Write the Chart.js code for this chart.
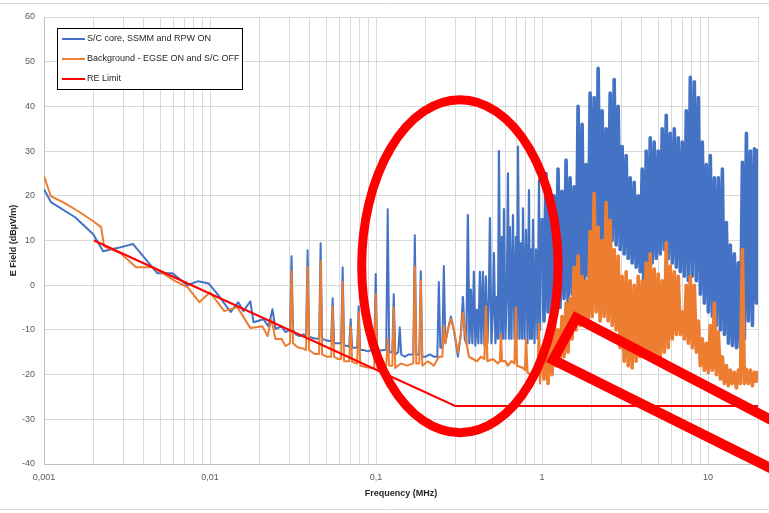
<!DOCTYPE html>
<html><head><meta charset="utf-8">
<script src="https://cdn.jsdelivr.net/npm/chart.js@4/dist/chart.umd.min.js"></script>
<style>html,body{margin:0;padding:0;background:#fff;overflow:hidden}canvas{display:block}</style>
</head><body>
<canvas id="c" width="769" height="513"></canvas>
<script>
// ---------- DATA ----------
const seriesNames = ['S/C core, SSMM and RPW ON', 'Background - EGSE ON and S/C OFF', 'RE Limit'];
const seriesColors = ['#4472C4', '#ED7D31', '#FF0000'];

const xTickValues = [0.001, 0.01, 0.1, 1, 10];
const xTickLabels = ['0,001', '0,01', '0,1', '1', '10'];
const minorMultipliers = [1, 2, 3, 4, 5, 6, 7, 8, 9];
const yTickMin = -40, yTickMax = 60, yTickStep = 10;

// Blue series, low-frequency part (MHz / dBµV/m)
const blueLowF = [0.001,0.0011,0.00154,0.00198,0.00227,0.00276,0.00344,0.00481,0.00592,0.0073,
  0.0085,0.0098,0.0111,0.0133,0.0148,0.0159,0.0175,0.0183,0.021,0.0225,
  0.0238,0.0248,0.02697,0.02851,0.03035,0.03099,0.03164,0.03276,0.03463,0.03661,
  0.0379,0.0387,0.03952,0.0415,0.04386,0.04542,0.04638,0.04735,0.04971,0.05256,
  0.05367,0.0548,0.05595,0.05872,0.06166,0.06295,0.06428,0.06748,0.0689,0.07035,
  0.07184,0.07541,0.077,0.07862,0.08028,0.08428,0.08911,0.09419,0.09752,0.09958,
  0.1017,0.1067,0.1113,0.1152,0.1176,0.1201,0.1253,0.1279,0.1306,0.1361,
  0.139,0.1419,0.149,0.1576,0.1677,0.1713,0.1749,0.1823,0.1861,0.19,
  0.1995,0.2109,0.2229,0.234,0.239,0.244,0.2509,0.2562,0.2616,0.2708,
  0.2825,0.2944,0.3113,0.3245,0.3336,0.3428,0.3502,0.3575,0.3651,0.3727,
  0.3806,0.3886,0.3968,0.4052,0.4137,0.4224,0.4313,0.4404,0.4498,0.4592,
  0.4689,0.4787,0.4855,0.4957,0.5061,0.5132,0.524,0.535,0.5425,0.5501,
  0.5617,0.5735,0.5815,0.5897,0.6021,0.6148,0.6234,0.6322,0.641,0.6545,
  0.6683,0.6823,0.6967,0.7065,0.7164,0.7315,0.7418,0.7574,0.768,0.7842,
  0.8007,0.8176,0.8347,0.8464,0.8583,0.8703,0.8825,0.9012,0.92,0.9393,
  0.9591,0.9725,0.9862];
const blueLowV = [21.5,18.6,15.2,11.4,7.6,8.3,9.2,2.7,2.7,0,
  0.9,0.4,-2,-6,-3.8,-5.8,-3.6,-8.3,-7.6,-9.2,
  -5.4,-9.8,-9.2,-10.5,-10,6.5,-10,-11,-11.4,-11,
  -11.5,7.8,-11.5,-11.8,-12,-12,9.4,-12,-12.3,-12.5,
  -12.5,-2.9,-13,-13,-13,4,-13.5,-13.6,-13.8,-7.6,
  -14,-14,-14,-4.7,-14.5,-14.5,-14.8,-14.5,-15,2.5,
  -15,-14.6,-14.5,-14.5,17,-15,-15,-2,-15.5,-15,
  -9.4,-15.5,-16,-15.5,-15.5,11.2,-15.5,-15.5,3.1,-16,
  -16,-15.5,-16,-16,0.7,-14,-14,4.3,-13,-10,
  -7,-10,-16,-11,-2.5,-12,-13,15.7,-13,-1,
  -13,3,-13.5,-5.5,-13,3,-13,3,-13.5,2,
  -13,-2.6,15,-13,-5.6,7.2,-13,-2.6,-12,30,
  -12,10.8,-12,17,-12,0.5,25,-12,13,-12,
  15.7,-12,10.8,-12,31,-12,9.4,-12,17.2,-12,
  12.4,-13,21.3,-12,8,-12,14.6,-13,8,-12,
  23.5,-10,10.8];

// Orange series, low-frequency part
const orangeLowF = [0.001,0.0011,0.0013,0.0016,0.00198,0.00221,0.0023,0.00288,0.00359,0.00455,
  0.00618,0.0073,0.00862,0.01,0.0122,0.01462,0.0175,0.0207,0.0222,0.02344,
  0.0248,0.02697,0.02851,0.03035,0.03099,0.03164,0.03369,0.03661,0.0379,0.0387,
  0.03952,0.04266,0.04542,0.04638,0.04735,0.0504,0.05367,0.0548,0.05595,0.05872,
  0.06166,0.06295,0.06428,0.0689,0.07035,0.07184,0.077,0.07862,0.08028,0.08667,
  0.0929,0.09752,0.09958,0.1017,0.1082,0.1152,0.1176,0.1201,0.1253,0.1279,
  0.1306,0.141,0.1532,0.1677,0.1713,0.1749,0.1823,0.1861,0.19,0.2051,
  0.2229,0.239,0.2509,0.2562,0.2616,0.2708,0.2825,0.2944,0.3113,0.3245,
  0.3336,0.3477,0.3626,0.3834,0.4052,0.4284,0.4498,0.4592,0.4689,0.5061,
  0.5425,0.5578,0.5656,0.5735,0.6021,0.6234,0.6545,0.6823,0.6967,0.7065,
  0.768,0.7897,0.8007,0.8176,0.8825,0.9393,0.9591,0.9725];
const orangeLowV = [24.4,19.9,18.6,16.6,14.3,13,8.7,7.2,4,4,
  0.9,-0.4,-3.8,-1.6,-5.8,-4.9,-9.6,-9.2,-11.4,-7.6,
  -12.1,-12,-13.6,-13,3.1,-13,-13.9,-14.2,-14.5,4,
  -14.5,-15.4,-15.4,5.4,-15.5,-16,-16,-4.9,-16,-16.5,
  -16.5,0.7,-17,-17,-9.2,-17.2,-17.5,-6,-18,-18.3,
  -18.5,-18.5,-2,-18.5,-18,-18,-12,-18,-18,-5,
  -18.5,-17.5,-18,-17.5,4.2,-17.5,-17.5,1,-18,-17,
  -18,-16,-16,-9,-13,-10,-7.5,-10,-15,-11,
  -6,-12,-16,-16.5,-17,-16,-16.5,-4.7,-17,-16.5,
  -17.5,-17,-11,-17,-17,-18,-17,-17.5,-5,-18,
  -18.5,-19,-12,-19.5,-20.5,-20,-8.7,-22];

// Dense sweep 1–20 MHz (shared frequency points)
const denseF = [1.000,1.028,1.057,1.087,1.118,1.149,1.181,1.215,1.249,1.284,
  1.320,1.358,1.396,1.435,1.476,1.517,1.560,1.604,1.649,1.696,
  1.744,1.793,1.843,1.895,1.949,2.004,2.060,2.118,2.178,2.239,
  2.302,2.367,2.434,2.502,2.573,2.645,2.720,2.796,2.875,2.956,
  3.039,3.125,3.213,3.303,3.396,3.492,3.591,3.692,3.796,3.903,
  4.013,4.126,4.242,4.362,4.485,4.611,4.741,4.875,5.013,5.154,
  5.299,5.449,5.602,5.760,5.923,6.090,6.261,6.438,6.619,6.806,
  6.998,7.195,7.398,7.606,7.821,8.041,8.268,8.501,8.741,8.987,
  9.241,9.499,9.767,10.04,10.32,10.62,10.92,11.22,11.54,11.87,
  12.20,12.54,12.90,13.26,13.63,14.02,14.41,14.82,15.24,15.67,
  16.11,16.56,17.03,17.51,18.00,18.51,19.03,19.56,20.0];
const blueDenseV = [15,-8,25,-6,18,-5,20,-4,26,-5,
  21,-3,28,-4,24,-2,22,-3,40,0,
  36,-2,27,2,43,4,42,5,48.5,8,
  39,6,35,8,43,10,46,9,40,8,
  31,7,29,6,24,5,23,4,20,3,
  26,-4,30,-5,33,5,32,6,30,7,
  35,8,38,6,34,5,35,4,33,3,
  32,2,39,1,46.5,2,45.5,1,42,-2,
  32,-4,27,-6,29,-7,24,-9,24,-10,
  26,-11,14,-13,9,-13.5,7,-14,5,-14,
  27.5,-12,34,-8,30,-9,30.5,-4,30.5];
const orangeDenseV = [-14,-21,-12,-22,-9,-20,-6,-18,-10,-17,
  -7,-16,-4,-15,-3,-12,4,-10,6.5,-9,
  2,-8,1,-9,12,-7,20.5,-6,13,-8,
  10,-7,18.5,-8,14.5,-9,8,-10,6.5,-14,
  2,-17,3,-18,1,-18.5,0,-17,2,-16,
  1,-15,5,-16,7,-17,3.6,-17,2.5,-16,
  1,-15,9.5,-14,4.3,-12,3,-11,2,-11,
  -6,-12,0,-13,2,-14,0,-15,-8,-18,
  -12,-19,-13,-19.5,-9,-19,-4,-20,-10.5,-21,
  -16,-22,-18,-22.5,-19,-22,-19.5,-23,-19,-22,
  8,-22,-18.8,-22,-19,-22.5,-19.5,-21.5,-19.2];

// RE limit
const limitF = [0.002, 0.3, 20];
const limitV = [10, -27, -27];

// Hand-drawn red highlight (data units): ellipse box and callout polyline
const ellipseF = [0.082, 1.25];
const ellipseV = [41.5, -33];
const calloutF = [36.6, 1.604, 1.165, 36.6];
const calloutV = [-33.7, -7.3, -16.7, -44.4];

// ---------- BUILD ----------
const pts = (fs, vs) => fs.map((f, i) => ({x: f, y: vs[i]}));
const blueData = pts(blueLowF, blueLowV).concat(pts(denseF, blueDenseV));
const orangeData = pts(orangeLowF, orangeLowV).concat(pts(denseF, orangeDenseV));
const limitData = pts(limitF, limitV);

const FONT = 'Liberation Sans';
// thicker strokes where the sweep is dense
const denseWidth = (ctx) => ctx.p0.parsed.x >= 0.99 ? 3.6 : (ctx.p0.parsed.x >= 0.33 ? 2.2 : 2);

const framePlugin = {
  id: 'frame',
  beforeDraw(chart) {
    const c = chart.ctx;
    c.save();
    c.fillStyle = '#fff';
    c.fillRect(0, 0, chart.width, chart.height);
    c.strokeStyle = '#d9d9d9';
    c.lineWidth = 1;
    c.beginPath();
    c.moveTo(0, 3.5); c.lineTo(chart.width, 3.5);
    c.moveTo(0, 509.5); c.lineTo(chart.width, 509.5);
    c.stroke();
    c.restore();
  }
};

const legendPlugin = {
  id: 'boxLegend',
  afterDatasetsDraw(chart) {
    const c = chart.ctx;
    const x0 = 57.5, y0 = 28.5, w = 185, h = 61;
    c.save();
    c.fillStyle = '#fff';
    c.fillRect(x0, y0, w, h);
    c.strokeStyle = '#000';
    c.lineWidth = 1;
    c.strokeRect(x0, y0, w, h);
    c.font = '9px "' + FONT + '"';
    c.textBaseline = 'middle';
    chart.data.datasets.forEach((ds, i) => {
      const y = 39 + i * 20;
      c.strokeStyle = ds.borderColor;
      c.lineWidth = 2;
      c.beginPath(); c.moveTo(62, y); c.lineTo(85, y); c.stroke();
      c.fillStyle = '#262626';
      c.fillText(ds.label, 87, y);
    });
    c.restore();
  }
};

const highlightPlugin = {
  id: 'highlight',
  afterDraw(chart) {
    const xs = chart.scales.x, ys = chart.scales.y, c = chart.ctx;
    const xa = xs.getPixelForValue(ellipseF[0]), xb = xs.getPixelForValue(ellipseF[1]);
    const ya = ys.getPixelForValue(ellipseV[0]), yb = ys.getPixelForValue(ellipseV[1]);
    c.save();
    c.strokeStyle = seriesColors[2];
    c.lineWidth = 9;
    c.beginPath();
    c.ellipse((xa + xb) / 2, (ya + yb) / 2, (xb - xa) / 2, (yb - ya) / 2, 0, 0, Math.PI * 2);
    c.stroke();
    c.lineWidth = 10;
    c.lineJoin = 'miter';
    c.beginPath();
    calloutF.forEach((f, i) => {
      const px = xs.getPixelForValue(f), py = ys.getPixelForValue(calloutV[i]);
      if (i === 0) c.moveTo(px, py); else c.lineTo(px, py);
    });
    c.stroke();
    c.restore();
  }
};

new Chart(document.getElementById('c'), {
  type: 'scatter',
  data: {
    datasets: [
      {label: seriesNames[0], data: blueData, borderColor: seriesColors[0], backgroundColor: seriesColors[0], showLine: true, pointRadius: 0, borderWidth: 2, borderJoinStyle: 'round', segment: {borderWidth: denseWidth}, order: 2},
      {label: seriesNames[1], data: orangeData, borderColor: seriesColors[1], backgroundColor: seriesColors[1], showLine: true, pointRadius: 0, borderWidth: 2, borderJoinStyle: 'round', segment: {borderWidth: denseWidth}, order: 1},
      {label: seriesNames[2], data: limitData, borderColor: seriesColors[2], backgroundColor: seriesColors[2], showLine: true, pointRadius: 0, borderWidth: 2, order: 0}
    ]
  },
  options: {
    responsive: false,
    animation: false,
    events: [],
    layout: {padding: {left: 0, right: 11, top: 17, bottom: 0}},
    plugins: {legend: {display: false}, tooltip: {enabled: false}},
    scales: {
      x: {
        type: 'logarithmic',
        min: 0.001, max: 20,
        afterFit: (s) => { s.height = 49; },
        afterBuildTicks: (s) => {
          const t = [];
          xTickValues.forEach(d => minorMultipliers.forEach(m => {
            const v = +(d * m).toPrecision(6);
            if (v <= 20) t.push({value: v});
          }));
          s.ticks = t;
        },
        ticks: {
          autoSkip: false, maxRotation: 0, padding: 8,
          color: '#595959', font: {family: FONT, size: 9},
          callback: (v) => {
            const i = xTickValues.findIndex(t => Math.abs(t - v) / t < 1e-6);
            return i >= 0 ? xTickLabels[i] : '';
          }
        },
        grid: {color: '#d9d9d9', drawTicks: false, lineWidth: 1},
        border: {color: '#bfbfbf'},
        title: {display: true, text: 'Frequency (MHz)', color: '#262626', font: {family: FONT, size: 9, weight: 'bold'}, padding: {top: 0, bottom: 14}}
      },
      y: {
        min: yTickMin, max: yTickMax,
        afterFit: (s) => { s.width = 44; },
        ticks: {stepSize: yTickStep, padding: 9, color: '#595959', font: {family: FONT, size: 9}},
        grid: {color: '#d9d9d9', drawTicks: false, lineWidth: 1},
        border: {color: '#bfbfbf'},
        title: {display: true, text: 'E Field (dBµV/m)', color: '#262626', font: {family: FONT, size: 9, weight: 'bold'}, padding: {top: 8, bottom: 0}}
      }
    }
  },
  plugins: [framePlugin, legendPlugin, highlightPlugin]
});
</script>
</body></html>
